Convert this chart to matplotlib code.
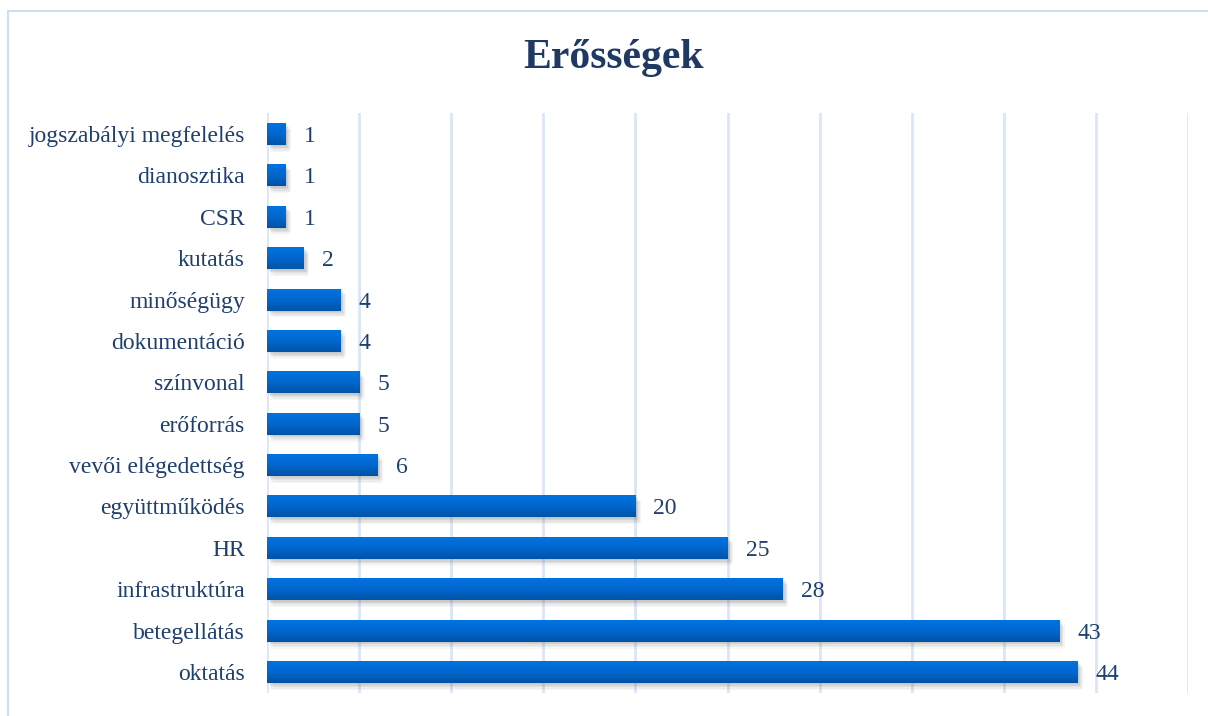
import numpy as np
import matplotlib
matplotlib.use("Agg")
import matplotlib.pyplot as plt
import matplotlib.patheffects as pe
from matplotlib.patches import Rectangle
from matplotlib.colors import LinearSegmentedColormap

categories = ["oktatás", "betegellátás", "infrastruktúra", "HR", "együttműködés",
              "vevői elégedettség", "erőforrás", "színvonal", "dokumentáció",
              "minőségügy", "kutatás", "CSR", "dianosztika", "jogszabályi megfelelés"]
values = [44, 43, 28, 25, 20, 6, 5, 5, 4, 4, 2, 1, 1, 1]
title = "Erősségek"

plt.rcParams['font.family'] = ['Liberation Serif', 'DejaVu Serif']
text_color = "#1F3F6E"
grid_color = "#DAE6F6"

fig = plt.figure(figsize=(12.08, 7.16), dpi=100)
fig.patches.append(Rectangle((8/1208, -0.01), 1.2, 1 - 11/716 + 0.01,
                             transform=fig.transFigure, fill=False,
                             edgecolor="#D0DFF0", linewidth=1.5))

ax = fig.add_axes([267/1208, 1 - 692.7/716, (1188 - 267)/1208, (692.7 - 113.3)/716])
ypos = np.arange(len(categories))
h = 0.53

grad = np.linspace(0, 1, 64).reshape(-1, 1)
cmap = LinearSegmentedColormap.from_list("g", ["#0053A6", "#0067CE", "#0073E0"])

# soft shadow: several layered offset shadows
shadow_fx = []
for dx, dy, a in [(1, -1, 0.10), (2, -2, 0.10), (3, -3, 0.08), (4, -4, 0.06), (2.5, -5, 0.05)]:
    shadow_fx.append(pe.SimplePatchShadow(offset=(dx, dy), shadow_rgbFace="#606060", alpha=a))
shadow_fx.append(pe.Normal())

bars = ax.barh(ypos, values, height=h, color="#0068D0", zorder=3, path_effects=shadow_fx)
for b, v, y in zip(bars, values, ypos):
    ax.imshow(grad, extent=(0, v, y - h/2, y + h/2), origin="lower", cmap=cmap,
              aspect="auto", zorder=4, interpolation="bilinear")
    ax.annotate(str(v), xy=(v, y), xytext=(13, 0), textcoords="offset points",
                ha="left", va="center_baseline", fontsize=17, color=text_color)

ax.set_xlim(0, 50)
ax.set_ylim(-0.5, len(categories) - 0.5)
ax.set_xticks(np.arange(0, 51, 5))
ax.set_xticklabels([])
ax.tick_params(axis="x", length=0)
ax.grid(axis="x", color=grid_color, linewidth=2, zorder=0)
ax.set_axisbelow(True)
ax.set_yticks(ypos)
ax.set_yticklabels(categories, fontsize=17, color=text_color)
ax.tick_params(axis="y", length=0, pad=16)
for s in ax.spines.values():
    s.set_visible(False)

fig.text(614/1208, 1 - 58/716, title, ha="center", va="center", fontsize=30,
         fontweight="bold", color="#1F3864")

fig.savefig("out.png", dpi=100)
